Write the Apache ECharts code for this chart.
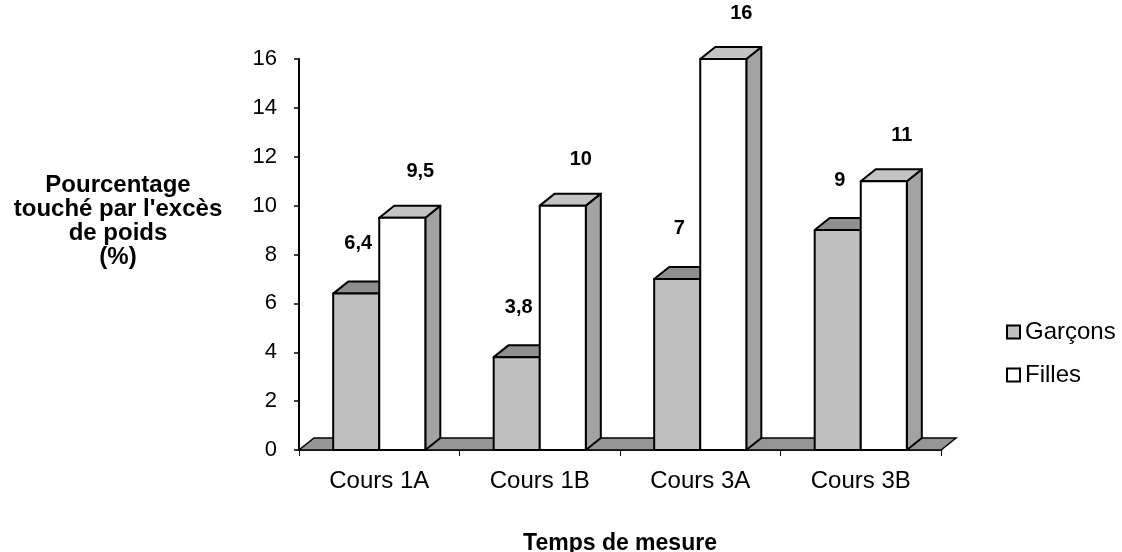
<!DOCTYPE html>
<html>
<head>
<meta charset="utf-8">
<script src="https://cdn.jsdelivr.net/npm/echarts@6/dist/echarts.min.js"></script>
<style>
  html, body { margin: 0; padding: 0; background: #fff; }
  #chart { width: 1122px; height: 552px; }
</style>
</head>
<body>
<div id="chart"></div>
<script>
// Données du graphique
const categories = ['Cours 1A', 'Cours 1B', 'Cours 3A', 'Cours 3B'];
const garcons = [6.4, 3.8, 7, 9];
const filles = [9.5, 10, 16, 11];
const yTicks = { min: 0, max: 16, interval: 2 };

const FONT = "'Liberation Sans', Arial, sans-serif";
const DEPTH_X = 15;   // décalage de la profondeur 3D
const DEPTH_Y = 12;

// couleurs des faces : avant, dessus, côté
const styles = [
  { front: '#c0c0c0', top: '#8f8f8f', side: '#808080', labelDx: 2, labelDy: -50 },
  { front: '#ffffff', top: '#c4c4c4', side: '#a3a3a3', labelDx: 18, labelDy: -46 }
];

const fmt = v => String(v).replace('.', ',');

// dessine une barre en faux 3D (style Excel)
function makeBarRenderer(idx) {
  return function (params, api) {
    const cat = api.value(0);
    const val = api.value(1);
    const base = api.coord([cat, 0]);
    const top = api.coord([cat, val]);
    const band = api.size([1, 0])[0];
    const w = band * 0.287;
    const cx = base[0] + (idx === 0 ? -w / 2 : w / 2);
    const x0 = cx - w / 2, x1 = cx + w / 2;
    const yb = base[1], yt = top[1];
    const s = styles[idx];
    const line = { stroke: '#000', lineWidth: 2, lineJoin: 'round' };
    return {
      type: 'group',
      children: [
        {
          type: 'polygon',
          shape: { points: [[x1, yb], [x1 + DEPTH_X, yb - DEPTH_Y], [x1 + DEPTH_X, yt - DEPTH_Y], [x1, yt]] },
          style: Object.assign({ fill: s.side }, line)
        },
        {
          type: 'polygon',
          shape: { points: [[x0, yt], [x0 + DEPTH_X, yt - DEPTH_Y], [x1 + DEPTH_X, yt - DEPTH_Y], [x1, yt]] },
          style: Object.assign({ fill: s.top }, line)
        },
        {
          type: 'rect',
          shape: { x: x0, y: yt, width: w, height: yb - yt },
          style: Object.assign({ fill: s.front }, line)
        },
        {
          type: 'text',
          x: cx + s.labelDx,
          y: yt + s.labelDy,
          style: {
            text: fmt(val),
            font: 'bold 20px ' + FONT,
            fill: '#000',
            align: 'center',
            verticalAlign: 'middle'
          }
        }
      ]
    };
  };
}

// le "sol" gris sous les barres
function renderFloor(params, api) {
  const cs = params.coordSys;
  const yb = cs.y + cs.height;
  const xl = cs.x, xr = cs.x + cs.width;
  return {
    type: 'polygon',
    shape: { points: [[xl, yb], [xr, yb], [xr + DEPTH_X, yb - DEPTH_Y], [xl + DEPTH_X, yb - DEPTH_Y]] },
    style: { fill: '#969696', stroke: '#000', lineWidth: 1.5 }
  };
}

const chart = echarts.init(document.getElementById('chart'), null, { renderer: 'canvas' });

const option = {
  animation: false,
  textStyle: { fontFamily: FONT },
  grid: { left: 299, right: 181, top: 59, bottom: 102, outerBoundsMode: 'none', containLabel: false },
  legend: {
    orient: 'vertical',
    left: 1006,
    top: 320,
    padding: 0,
    icon: 'rect',
    itemWidth: 13,
    itemHeight: 13,
    itemGap: 19,
    textStyle: { fontSize: 24, color: '#000', fontFamily: FONT },
    data: [
      { name: 'Garçons', itemStyle: { color: '#c0c0c0', borderColor: '#000', borderWidth: 2 } },
      { name: 'Filles', itemStyle: { color: '#ffffff', borderColor: '#000', borderWidth: 2 } }
    ]
  },
  graphic: [{
    type: 'text',
    x: 118,
    y: 221,
    style: {
      text: "Pourcentage\ntouché par l'excès\nde poids\n(%)",
      font: 'bold 24px ' + FONT,
      lineHeight: 24,
      fill: '#000',
      align: 'center',
      verticalAlign: 'middle'
    }
  }],
  xAxis: {
    type: 'category',
    data: categories,
    boundaryGap: true,
    name: 'Temps de mesure',
    nameLocation: 'middle',
    nameGap: 82,
    nameTextStyle: { fontSize: 23, fontWeight: 'bold', color: '#000', fontFamily: FONT },
    axisLine: { show: true, lineStyle: { color: '#000', width: 1.5 } },
    axisTick: { show: true, interval: 0, length: 6, lineStyle: { color: '#000', width: 1 } },
    axisLabel: { fontSize: 24, color: '#000', margin: 19, interval: 0 },
    splitLine: { show: false }
  },
  yAxis: {
    type: 'value',
    min: yTicks.min,
    max: yTicks.max,
    interval: yTicks.interval,
    axisLine: { show: true, lineStyle: { color: '#000', width: 2 } },
    axisTick: { show: true, length: 5, lineStyle: { color: '#000', width: 1.5 } },
    axisLabel: { fontSize: 22, color: '#000', margin: 22 },
    splitLine: { show: false }
  },
  series: [
    {
      name: 'floor',
      type: 'custom',
      renderItem: renderFloor,
      data: [[0, 0]],
      encode: { x: 0, y: 1 },
      silent: true,
      z: 1
    },
    {
      name: 'Garçons',
      type: 'custom',
      renderItem: makeBarRenderer(0),
      data: garcons.map((v, i) => [i, v]),
      encode: { x: 0, y: 1 },
      itemStyle: { color: '#c0c0c0' },
      z: 2
    },
    {
      name: 'Filles',
      type: 'custom',
      renderItem: makeBarRenderer(1),
      data: filles.map((v, i) => [i, v]),
      encode: { x: 0, y: 1 },
      itemStyle: { color: '#ffffff' },
      z: 3
    }
  ]
};

chart.setOption(option);
</script>
</body>
</html>
